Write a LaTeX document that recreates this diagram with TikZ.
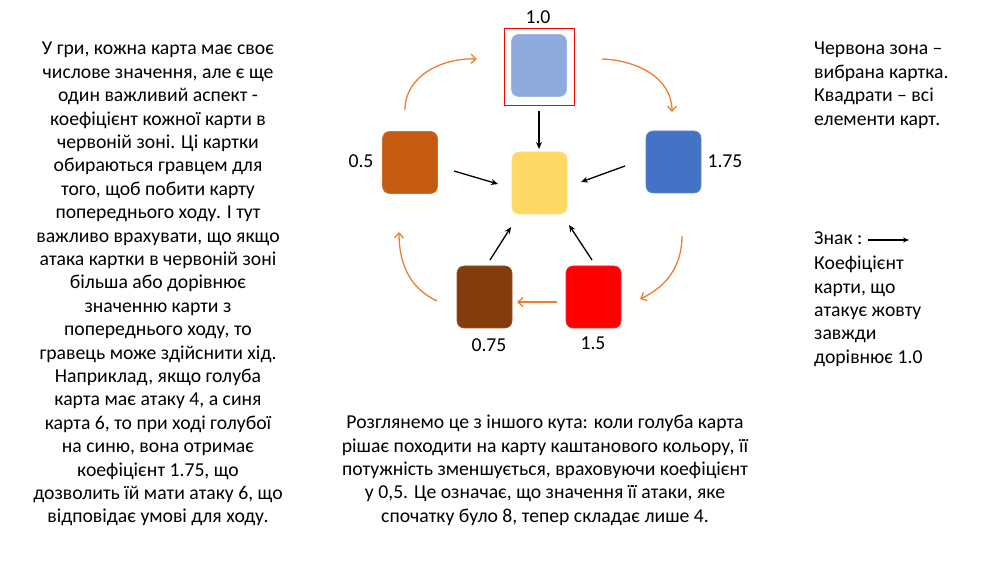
\documentclass[tikz,border=0pt]{standalone}
\usepackage{fontspec}
\setmainfont{Carlito}
\usetikzlibrary{arrows.meta}
\definecolor{cLightBlue}{HTML}{8FAADC}
\definecolor{cYellow}{HTML}{FFD966}
\definecolor{cOrange}{HTML}{C55A11}
\definecolor{cBlue}{HTML}{4472C4}
\definecolor{cBrown}{HTML}{843C0C}
\definecolor{cRed}{HTML}{FF0000}
\definecolor{cArrow}{HTML}{ED7D31}
\tikzset{
  card/.style={rounded corners=7pt, minimum width=55pt, minimum height=62pt, inner sep=0pt, draw=#1!85!white, line width=0.6pt, fill=#1},
  txt/.style={font=\fontsize{19.7}{23.4}\selectfont, inner sep=0pt, text=black},
  lbl/.style={font=\fontsize{19.7}{23}\selectfont, inner sep=0pt},
  blk/.style={-{Stealth[length=7pt,width=6pt]}, line width=1.3pt, black},
  org/.style={-{Straight Barb[length=5pt,width=9pt]}, line width=1.3pt, cArrow},
}
\begin{document}
\begin{tikzpicture}[x=1pt,y=-1pt]
\useasboundingbox (0,0) rectangle (1004,561);
% cards
\node[card=cLightBlue] (top) at (539,65.5) {};
\node[draw=cRed, line width=0.7pt, minimum width=70pt, minimum height=77pt, inner sep=0pt] (zone) at (539,66.5) {};
\node[card=cYellow] (yel) at (539.5,183) {};
\node[card=cOrange] (ora) at (410,162.5) {};
\node[card=cBlue] (blu) at (673.5,162) {};
\node[card=cBrown] (bro) at (484.5,297) {};
\node[card=cRed] (red) at (593.5,297) {};
% labels
\node[lbl] (l10) at (538,17) {1.0};
\node[lbl] (l175) at (725,161) {1.75};
\node[lbl] (l05) at (361,161) {0.5};
\node[lbl] (l075) at (489,345) {0.75};
\node[lbl] (l15) at (593,343) {1.5};
% black arrow end points
\coordinate (a1s) at (539,111); \coordinate (a1e) at (539,149);
\coordinate (a2s) at (454,171); \coordinate (a2e) at (498,184);
\coordinate (a3s) at (625,166); \coordinate (a3e) at (581,182);
\coordinate (a4s) at (490,260); \coordinate (a4e) at (511,227);
\coordinate (a5s) at (592,260); \coordinate (a5e) at (569,225);
\draw[blk] (a1s) -- (a1e);
\draw[blk] (a2s) -- (a2e);
\draw[blk] (a3s) -- (a3e);
\draw[blk] (a4s) -- (a4e);
\draw[blk] (a5s) -- (a5e);
% orange arrows
\coordinate (o1s) at (405,110); \coordinate (o1e) at (477,59);
\coordinate (o2s) at (602,59); \coordinate (o2e) at (672,112);
\coordinate (o3s) at (682,236); \coordinate (o3e) at (640,299);
\coordinate (o4s) at (557,302); \coordinate (o4e) at (517,302);
\coordinate (o5s) at (437,301); \coordinate (o5e) at (399,232);
\draw[org] (o1s) to[out=90,in=178] (o1e);
\draw[org] (o2s) to[out=-2,in=90] (o2e);
\draw[org] (o3s) to[out=-90,in=25] (o3e);
\draw[org] (o4s) -- (o4e);
\draw[org] (o5s) to[out=155,in=-90] (o5e);
% texts
\node[txt, align=center, anchor=north] (left) at (158,42) {У гри, кожна карта має своє\\числове значення, але є ще\\один важливий аспект -\\коефіцієнт кожної карти в\\червоній зоні. Ці картки\\обираються гравцем для\\того, щоб побити карту\\попереднього ходу. І тут\\важливо врахувати, що якщо\\атака картки в червоній зоні\\більша або дорівнює\\значенню карти з\\попереднього ходу, то\\гравець може здійснити хід.\\Наприклад, якщо голуба\\карта має атаку 4, а синя\\карта 6, то при ході голубої\\на синю, вона отримає\\коефіцієнт 1.75, що\\дозволить їй мати атаку 6, що\\відповідає умові для ходу.};
\node[txt, align=left, anchor=north west] (right1) at (814,42) {Червона зона –\\вибрана картка.\\Квадрати – всі\\елементи карт.};
\node[txt, anchor=north west] (znak) at (814,232) {Знак :};
\coordinate (ls) at (868,240); \coordinate (le) at (909,240);
\draw[-{Stealth[length=6pt,width=5pt]}, line width=1.1pt] (ls) -- (le);
\node[txt, align=left, anchor=north west] (right2) at (814,256) {Коефіцієнт\\карти, що\\атакує жовту\\завжди\\дорівнює 1.0};
\node[txt, align=center, anchor=north] (bottom) at (545,415) {Розглянемо це з іншого кута: коли голуба карта\\рішає походити на карту каштанового кольору, її\\потужність зменшується, враховуючи коефіцієнт\\у 0,5. Це означає, що значення її атаки, яке\\спочатку було 8, тепер складає лише 4.};
\end{tikzpicture}
\end{document}
